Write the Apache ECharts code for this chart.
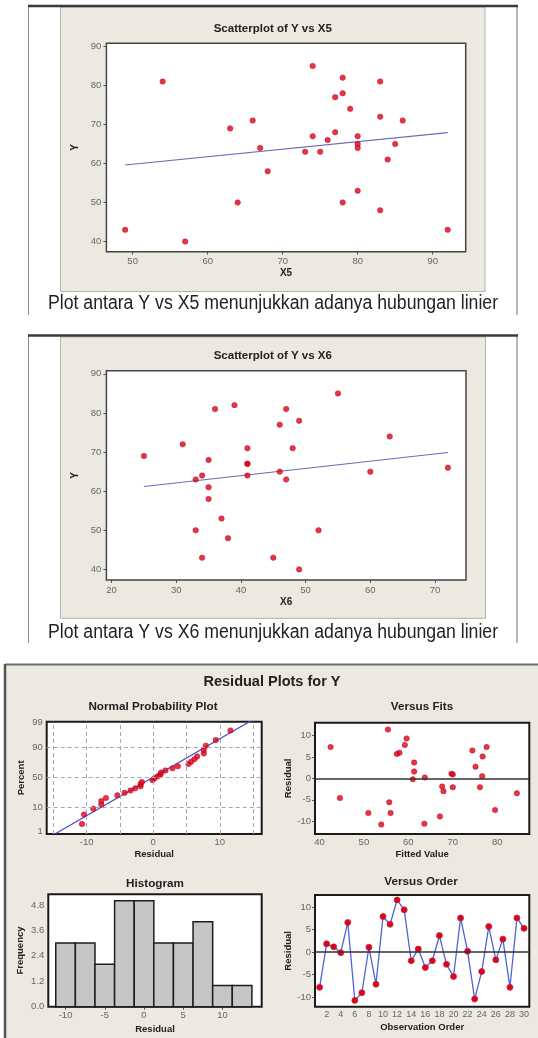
<!DOCTYPE html>
<html>
<head>
<meta charset="utf-8">
<script src="https://cdn.jsdelivr.net/npm/echarts@6/dist/echarts.min.js"></script>
<style>
html, body { margin: 0; padding: 0; background: #fff; }
#chart { width: 538px; height: 1038px; }
</style>
</head>
<body>
<div id="chart"></div>
<script>
// ---- data ----
// scatterplot Y vs X5
const x5 = [49, 54, 57, 63, 64, 66, 67, 68, 73, 74, 74, 75, 76, 77, 77, 78, 78, 78, 79, 80, 80, 80, 80, 83, 83, 83, 84, 85, 86, 92]
const yX5 = [43, 81, 40, 69, 50, 71, 64, 58, 63, 85, 67, 63, 66, 77, 68, 82, 78, 50, 74, 67, 65, 64, 53, 81, 72, 48, 61, 65, 71, 43]
const fitX5 = [[49, 59.6], [92, 67.9]]

// scatterplot Y vs X6
const x6 = [25, 31, 33, 33, 34, 34, 35, 35, 35, 36, 37, 38, 39, 41, 41, 41, 41, 45, 46, 46, 47, 47, 48, 49, 49, 52, 55, 60, 63, 72]
const yX6 = [69, 72, 63, 50, 64, 43, 68, 61, 58, 81, 53, 48, 82, 71, 67, 67, 64, 43, 77, 65, 81, 63, 71, 78, 40, 50, 85, 65, 74, 66]
const fitX6 = [[25, 61.2], [72, 69.9]]

const yTicks = [40, 50, 60, 70, 80, 90]
const x5Ticks = [50, 60, 70, 80, 90]
const x6Ticks = [20, 30, 40, 50, 60, 70]

// residuals in observation order
const obsOrder = [1, 2, 3, 4, 5, 6, 7, 8, 9, 10, 11, 12, 13, 14, 15, 16, 17, 18, 19, 20, 21, 22, 23, 24, 25, 26, 27, 28, 29, 30]
const residual = [-7.8, 1.85, 1.2, -0.1, 6.6, -10.7, -9.0, 1.1, -7.1, 7.9, 6.2, 11.6, 9.4, -1.9, 0.7, -3.4, -1.9, 3.7, -2.7, -5.4, 7.6, 0.2, -10.4, -4.3, 5.7, -1.7, 2.9, -7.8, 7.6, 5.3]
const orderTicks = [2, 4, 6, 8, 10, 12, 14, 16, 18, 20, 22, 24, 26, 28, 30]

// versus fits
const fittedValue = [42.5, 44.6, 51.0, 53.9, 55.4, 55.7, 56.0, 57.4, 58.0, 59.2, 59.6, 61.3, 61.3, 61.0, 63.6, 63.7, 67.1, 67.6, 67.9, 69.7, 70.0, 70.0, 74.4, 75.1, 76.1, 76.6, 76.7, 77.6, 79.5, 84.4]
const fitResidual = [7.3, -4.6, -8.1, -10.8, 11.4, -5.6, -8.1, 5.7, 6.0, 7.8, 9.3, 3.7, 1.6, -0.2, -10.6, 0.2, -8.9, -1.9, -3.0, 1.1, 0.9, -2.1, 6.5, 2.7, -2.1, 0.5, 5.1, 7.3, -7.4, -3.5]
const fitsXTicks = [40, 50, 60, 70, 80]
const residTicks = [-10, -5, 0, 5, 10]

// normal probability plot (percent of each sorted residual)
const nppPercent = [2.3, 5.6, 8.9, 12.2, 15.5, 18.8, 22.0, 25.3, 28.6, 31.9, 35.2, 38.5, 41.8, 45.1, 48.4, 51.6, 54.9, 58.2, 61.5, 64.8, 68.1, 71.4, 74.7, 78.0, 81.3, 84.5, 87.8, 91.1, 94.4, 97.7]
const nppFitLine = [[-14.7, 0.8], [14.7, 99.2]]
const pctTicks = [1, 10, 50, 90, 99]
const pctGrid = [10, 50, 90]
const nppXTicks = [-10, 0, 10]
const nppXGrid = [-15, -10, -5, 0, 5, 10, 15]

// histogram
const binCenter = [-10, -7.5, -5, -2.5, 0, 2.5, 5, 7.5, 10, 12.5]
const frequency = [3, 3, 2, 5, 5, 3, 3, 4, 1, 1]
const binWidth = 2.5
const histXTicks = [-10, -5, 0, 5, 10]
const freqTicks = [0, 1.2, 2.4, 3.6, 4.8]

// ---- helpers ----
const FONT = "'Liberation Sans', Arial, sans-serif"
const RED = '#e3001b'

// inverse normal cdf, used as the probability scale of the percent axis
function probit(p) {
  const a = [-39.69683028665376, 220.9460984245205, -275.9285104469687, 138.3577518672690, -30.66479806614716, 2.506628277459239]
  const b = [-54.47609879822406, 161.5858368580409, -155.6989798598866, 66.80131188771972, -13.28068155288572]
  const c = [-0.007784894002430293, -0.3223964580411365, -2.400758277161838, -2.549732539343734, 4.374664141464968, 2.938163982698783]
  const d = [0.007784695709041462, 0.3224671290700398, 2.445134137142996, 3.754408661907416]
  const lo = 0.02425
  let q, r
  if (p < lo) {
    q = Math.sqrt(-2 * Math.log(p))
    return (((((c[0] * q + c[1]) * q + c[2]) * q + c[3]) * q + c[4]) * q + c[5]) / ((((d[0] * q + d[1]) * q + d[2]) * q + d[3]) * q + 1)
  }
  if (p > 1 - lo) {
    q = Math.sqrt(-2 * Math.log(1 - p))
    return -(((((c[0] * q + c[1]) * q + c[2]) * q + c[3]) * q + c[4]) * q + c[5]) / ((((d[0] * q + d[1]) * q + d[2]) * q + d[3]) * q + 1)
  }
  q = p - 0.5
  r = q * q
  return (((((a[0] * r + a[1]) * r + a[2]) * r + a[3]) * r + a[4]) * r + a[5]) * q / (((((b[0] * r + b[1]) * r + b[2]) * r + b[3]) * r + b[4]) * r + 1)
}

const tickLabel = { color: '#666', fontSize: 9.5, fontFamily: FONT }
const nameStyle = { color: '#222', fontSize: 9.5, fontWeight: 'bold', fontFamily: FONT }

const axis = (gridIndex, min, max, ticks, name, nameGap, extra) => Object.assign({
  type: 'value', gridIndex, min, max, name, nameLocation: 'middle', nameGap,
  nameTextStyle: nameStyle,
  axisLine: { show: false },
  splitLine: { show: false },
  axisTick: { show: true, customValues: ticks, length: 3, lineStyle: { color: '#555' } },
  axisLabel: Object.assign({ customValues: ticks, margin: 5 }, tickLabel)
}, extra || {})

const zip = (a, b) => a.map((v, i) => [v, b[i]])

const text = (x, y, str, font, extra) => Object.assign({
  type: 'text', x, y, z: 10,
  style: { text: str, font, fill: '#222', align: 'center', verticalAlign: 'middle' }
}, extra || {})

const line = (x1, y1, x2, y2, stroke, lineWidth) => ({
  type: 'line', z: 1, shape: { x1, y1, x2, y2 }, style: { stroke, lineWidth }
})

const sortedResidual = residual.slice().sort((p, q) => p - q)
const pctIndex = pctTicks.map(p => probit(p / 100))

const chart = echarts.init(document.getElementById('chart'))

const option = {
  backgroundColor: '#fff',
  animation: false,
  graphic: [
    // scatter panel frames
    { type: 'rect', z: 0, shape: { x: 28, y: 6, width: 490, height: 309 }, style: { fill: '#fff' } },
    { type: 'rect', z: 0, shape: { x: 60.5, y: 7, width: 424.5, height: 284.5 }, style: { fill: '#ece9e0', stroke: '#b4b2aa', lineWidth: 1 } },
    line(28.5, 6, 28.5, 315, '#8c8c8c', 1),
    line(517, 6, 517, 315, '#a0a0a0', 1.5),
    line(28, 6, 518, 6, '#3a3a3a', 2.5),
    { type: 'rect', z: 0, shape: { x: 28, y: 335, width: 490, height: 308 }, style: { fill: '#fff' } },
    { type: 'rect', z: 0, shape: { x: 60.5, y: 337, width: 425, height: 281.3 }, style: { fill: '#ece9e0', stroke: '#b4b2aa', lineWidth: 1 } },
    line(28.5, 335, 28.5, 643, '#8c8c8c', 1),
    line(517, 335, 517, 643, '#a0a0a0', 1.5),
    line(28, 335.5, 518, 335.5, '#3a3a3a', 2.5),
    // residual panel
    { type: 'rect', z: 0, shape: { x: 5, y: 664, width: 533, height: 374 }, style: { fill: '#ece9e0' } },
    line(5, 664.5, 538, 664.5, '#6a6a6a', 2),
    line(5, 664, 5, 1038, '#555', 2.5),
    // titles and captions
    text(272.8, 28.5, 'Scatterplot of Y vs X5', 'bold 11.5px ' + FONT),
    text(272.8, 356, 'Scatterplot of Y vs X6', 'bold 11.5px ' + FONT),
    text(273, 303, 'Plot antara Y vs X5 menunjukkan adanya hubungan linier', '20px ' + FONT, { scaleX: 0.884 }),
    text(273, 632.5, 'Plot antara Y vs X6 menunjukkan adanya hubungan linier', '20px ' + FONT, { scaleX: 0.884 }),
    text(272, 681.7, 'Residual Plots for Y', 'bold 14.5px ' + FONT),
    text(153, 706.7, 'Normal Probability Plot', 'bold 11.7px ' + FONT),
    text(422, 706.7, 'Versus Fits', 'bold 11.7px ' + FONT),
    text(155, 883.3, 'Histogram', 'bold 11.7px ' + FONT),
    text(421, 881.7, 'Versus Order', 'bold 11.7px ' + FONT)
  ],
  grid: [
    { left: 106.4, top: 43.3, width: 359.3, height: 208.4, borderColor: '#444', borderWidth: 1.5 },
    { left: 106.4, top: 370.7, width: 359.6, height: 209.3, borderColor: '#444', borderWidth: 1.5 },
    { left: 46.7, top: 721.7, width: 215, height: 112.3, borderColor: '#1a1a1a', borderWidth: 2 },
    { left: 315, top: 722.7, width: 214.3, height: 111.3, borderColor: '#1a1a1a', borderWidth: 2 },
    { left: 48.3, top: 894.3, width: 213.4, height: 112.4, borderColor: '#1a1a1a', borderWidth: 2 },
    { left: 315, top: 895, width: 214.3, height: 111.7, borderColor: '#1a1a1a', borderWidth: 2 }
  ].map(g => Object.assign({ show: true, backgroundColor: '#fff', z: 1 }, g)),
  xAxis: [
    axis(0, 46.5, 94.4, x5Ticks, 'X5', 17, { nameTextStyle: Object.assign({}, nameStyle, { fontSize: 10 }) }),
    axis(1, 19.2, 74.8, x6Ticks, 'X6', 17, { nameTextStyle: Object.assign({}, nameStyle, { fontSize: 10 }) }),
    axis(2, -16, 16.3, nppXTicks, 'Residual', 15, { axisTick: { show: false }, axisLabel: Object.assign({ customValues: nppXTicks, margin: 3 }, tickLabel) }),
    axis(3, 39, 87.2, fitsXTicks, 'Fitted Value', 15, { axisTick: { show: false }, axisLabel: Object.assign({ customValues: fitsXTicks, margin: 3 }, tickLabel) }),
    axis(4, -12.2, 15, histXTicks, 'Residual', 18, { axisLabel: Object.assign({ customValues: histXTicks, margin: 4 }, tickLabel) }),
    axis(5, 0.35, 30.75, orderTicks, 'Observation Order', 15.5, { axisLabel: Object.assign({ customValues: orderTicks, margin: 3 }, tickLabel, { fontSize: 9 }) })
  ],
  yAxis: [
    axis(0, 37.4, 90.8, yTicks, 'Y', 23, { nameRotate: 90, nameTextStyle: Object.assign({}, nameStyle, { fontSize: 10 }) }),
    axis(1, 37.3, 90.8, yTicks, 'Y', 23, { nameRotate: 90, nameTextStyle: Object.assign({}, nameStyle, { fontSize: 10 }) }),
    axis(2, -2.42, 2.37, pctIndex, 'Percent', 20, {
      nameRotate: 90,
      axisLabel: Object.assign({
        customValues: pctIndex, margin: 4,
        formatter: v => {
          let best = 0
          pctIndex.forEach((q, i) => { if (Math.abs(q - v) < Math.abs(pctIndex[best] - v)) best = i })
          return String(pctTicks[best])
        }
      }, tickLabel)
    }),
    axis(3, -13, 13, residTicks, 'Residual', 21.5, { nameRotate: 90, axisLabel: Object.assign({ customValues: residTicks, margin: 4 }, tickLabel) }),
    axis(4, 0, 5.3, freqTicks, 'Frequency', 23, { nameRotate: 90, axisLabel: Object.assign({ customValues: freqTicks, margin: 4, formatter: v => v.toFixed(1) }, tickLabel) }),
    axis(5, -12.1, 12.7, residTicks, 'Residual', 21.5, { nameRotate: 90, axisLabel: Object.assign({ customValues: residTicks, margin: 4 }, tickLabel) })
  ],
  series: [
    {
      type: 'scatter', xAxisIndex: 0, yAxisIndex: 0, z: 4, symbolSize: 5.5,
      itemStyle: { color: RED, borderColor: '#a80012', borderWidth: 0.5 },
      data: zip(x5, yX5)
    },
    {
      type: 'line', xAxisIndex: 0, yAxisIndex: 0, z: 3, symbol: 'none',
      lineStyle: { color: '#6a6ab8', width: 1.1 }, data: fitX5
    },
    {
      type: 'scatter', xAxisIndex: 1, yAxisIndex: 1, z: 4, symbolSize: 5.5,
      itemStyle: { color: RED, borderColor: '#a80012', borderWidth: 0.5 },
      data: zip(x6, yX6)
    },
    {
      type: 'line', xAxisIndex: 1, yAxisIndex: 1, z: 3, symbol: 'none',
      lineStyle: { color: '#6a6ab8', width: 1.1 }, data: fitX6
    },
    {
      // probability plot fit line with the dashed reference grid
      type: 'line', xAxisIndex: 2, yAxisIndex: 2, z: 3, symbol: 'none',
      lineStyle: { color: '#3f4fcf', width: 1.3 },
      data: nppFitLine.map(d => [d[0], probit(d[1] / 100)]),
      markLine: {
        silent: true, symbol: 'none', label: { show: false },
        lineStyle: { color: '#a8a8a8', type: [4, 3], width: 1 },
        data: nppXGrid.map(v => ({ xAxis: v })).concat(pctGrid.map(p => ({ yAxis: probit(p / 100) })))
      }
    },
    {
      type: 'scatter', xAxisIndex: 2, yAxisIndex: 2, z: 4, symbolSize: 5.5,
      itemStyle: { color: RED, borderColor: '#a80012', borderWidth: 0.5 },
      data: sortedResidual.map((r, i) => [r, probit(nppPercent[i] / 100)])
    },
    {
      type: 'scatter', xAxisIndex: 3, yAxisIndex: 3, z: 4, symbolSize: 5.5,
      itemStyle: { color: RED, borderColor: '#a80012', borderWidth: 0.5 },
      data: zip(fittedValue, fitResidual),
      markLine: {
        silent: true, symbol: 'none', label: { show: false },
        lineStyle: { color: '#333', type: 'solid', width: 1.5 },
        data: [{ yAxis: 0 }]
      }
    },
    {
      type: 'custom', xAxisIndex: 4, yAxisIndex: 4, z: 3,
      data: zip(binCenter, frequency),
      renderItem: (params, api) => {
        const c = api.value(0)
        const f = api.value(1)
        const p0 = api.coord([c - binWidth / 2, f])
        const p1 = api.coord([c + binWidth / 2, 0])
        return {
          type: 'rect',
          shape: { x: p0[0], y: p0[1], width: p1[0] - p0[0], height: p1[1] - p0[1] },
          style: { fill: '#c6c6c6', stroke: '#1e1e1e', lineWidth: 1.5 }
        }
      }
    },
    {
      type: 'line', xAxisIndex: 5, yAxisIndex: 5, z: 4,
      symbol: 'circle', symbolSize: 6,
      lineStyle: { color: '#4f63d6', width: 1.3 },
      itemStyle: { color: RED, borderColor: '#b0304a', borderWidth: 0.8 },
      data: zip(obsOrder, residual),
      markLine: {
        silent: true, symbol: 'none', label: { show: false },
        lineStyle: { color: '#333', type: 'solid', width: 1.5 },
        data: [{ yAxis: 0 }]
      }
    }
  ]
}

chart.setOption(option)
</script>
</body>
</html>
